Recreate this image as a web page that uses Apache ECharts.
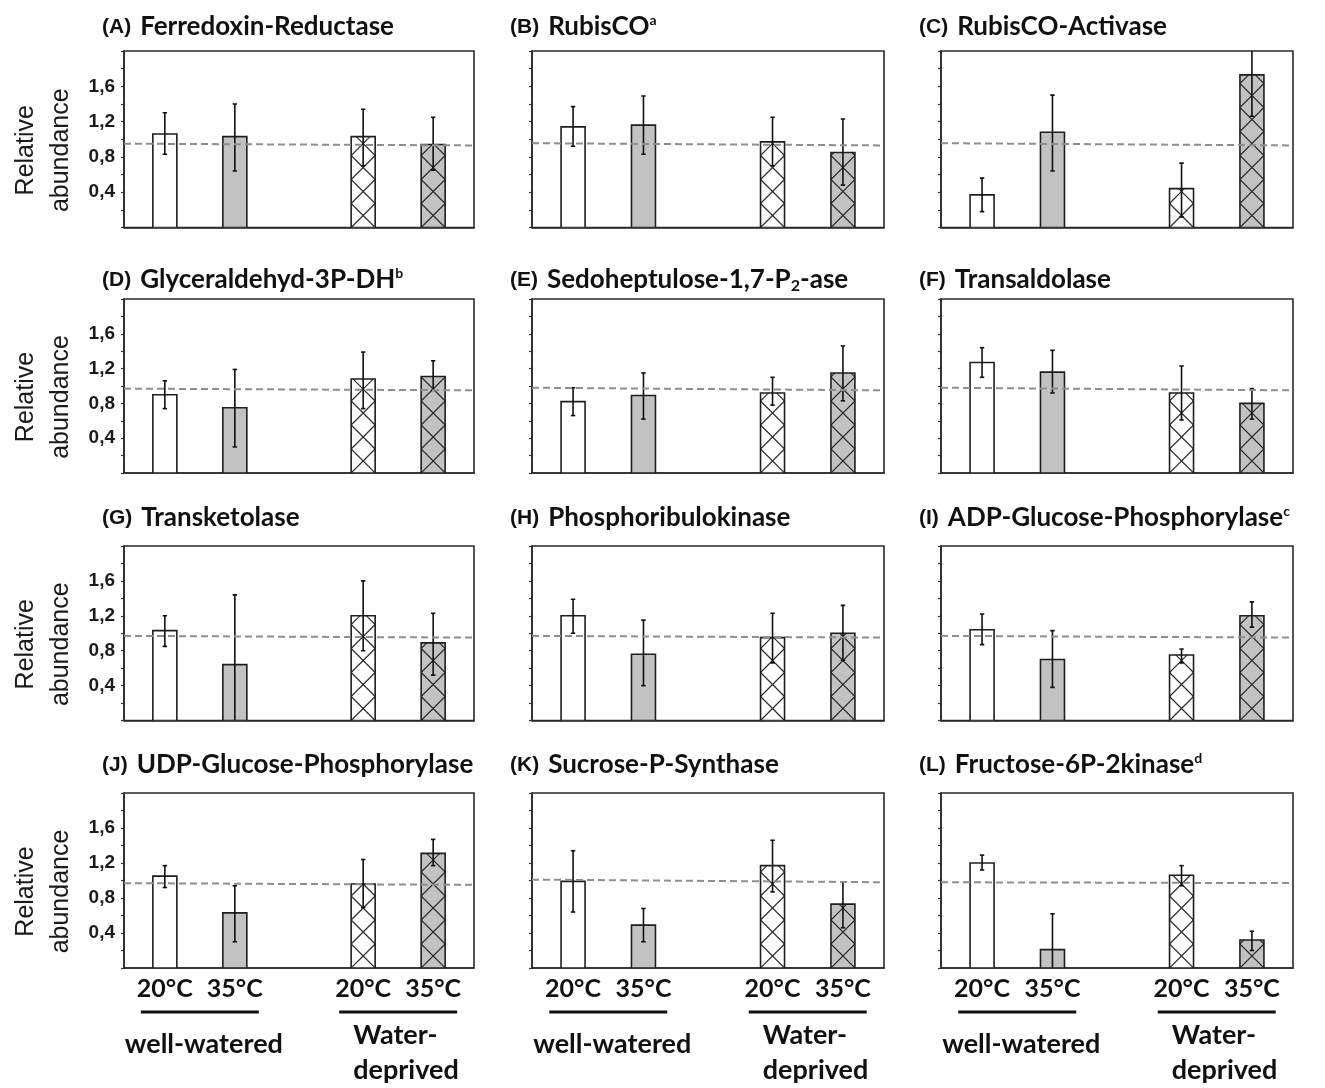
<!DOCTYPE html>
<html>
<head>
<meta charset="utf-8">
<script src="https://cdn.jsdelivr.net/npm/echarts@6/dist/echarts.min.js"></script>
<style>
  html, body { margin: 0; padding: 0; background: #ffffff; }
  #chart { width: 1325px; height: 1088px; }
</style>
</head>
<body>
<div id="chart"></div>
<script>
// ---- Panel labels ----------------------------------------------------------
const panelLetters = ['A', 'B', 'C', 'D', 'E', 'F', 'G', 'H', 'I', 'J', 'K', 'L'];
const enzymeNames = [
  '{n|Ferredoxin-Reductase}',
  '{n|RubisCO}{sup|a}',
  '{n|RubisCO-Activase}',
  '{n|Glyceraldehyd-3P-DH}{sup|b}',
  '{n|Sedoheptulose-1,7-P}{sub|2}{n|-ase}',
  '{n|Transaldolase}',
  '{n|Transketolase}',
  '{n|Phosphoribulokinase}',
  '{n|ADP-Glucose-Phosphorylase}{sup|c}',
  '{n|UDP-Glucose-Phosphorylase}',
  '{n|Sucrose-P-Synthase}',
  '{n|Fructose-6P-2kinase}{sup|d}'
];
const temperatureLabels = ['20°C', '35°C', '20°C', '35°C'];
const wateringGroups = ['well-watered', 'Water-\ndeprived'];
const yTickValues = [0.4, 0.8, 1.2, 1.6];
const yTickText = ['0,4', '0,8', '1,2', '1,6'];

// ---- Relative abundance: well-watered 20°C, 35°C, water-deprived 20°C, 35°C
const meanA = [1.06, 1.03, 1.03, 0.94];
const lowA  = [0.83, 0.64, 0.70, 0.65];
const highA = [1.30, 1.40, 1.34, 1.25];

const meanB = [1.14, 1.16, 0.97, 0.85];
const lowB  = [0.92, 0.83, 0.70, 0.48];
const highB = [1.37, 1.49, 1.25, 1.23];

const meanC = [0.37, 1.08, 0.44, 1.73];
const lowC  = [0.18, 0.64, 0.12, 1.26];
const highC = [0.56, 1.50, 0.73, 2.20];

const meanD = [0.90, 0.75, 1.08, 1.11];
const lowD  = [0.74, 0.30, 0.74, 0.95];
const highD = [1.06, 1.19, 1.39, 1.29];

const meanE = [0.82, 0.89, 0.92, 1.15];
const lowE  = [0.66, 0.62, 0.78, 0.83];
const highE = [0.98, 1.15, 1.10, 1.46];

const meanF = [1.27, 1.16, 0.92, 0.80];
const lowF  = [1.10, 0.92, 0.61, 0.62];
const highF = [1.44, 1.41, 1.23, 0.97];

const meanG = [1.03, 0.64, 1.20, 0.89];
const lowG  = [0.85, -0.16, 0.80, 0.52];
const highG = [1.20, 1.44, 1.60, 1.23];

const meanH = [1.20, 0.76, 0.95, 1.00];
const lowH  = [1.00, 0.40, 0.66, 0.69];
const highH = [1.39, 1.15, 1.23, 1.32];

const meanI = [1.04, 0.70, 0.75, 1.20];
const lowI  = [0.87, 0.38, 0.66, 1.07];
const highI = [1.22, 1.03, 0.82, 1.36];

const meanJ = [1.05, 0.63, 0.96, 1.31];
const lowJ  = [0.92, 0.30, 0.69, 1.17];
const highJ = [1.17, 0.94, 1.24, 1.47];

const meanK = [0.99, 0.49, 1.17, 0.73];
const lowK  = [0.64, 0.30, 0.87, 0.46];
const highK = [1.34, 0.68, 1.46, 0.98];

const meanL = [1.20, 0.21, 1.06, 0.32];
const lowL  = [1.12, -0.20, 0.94, 0.20];
const highL = [1.29, 0.62, 1.17, 0.42];

// Dashed control level (left end, right end) per panel
const controlLevel = [
  [0.95, 0.93], [0.955, 0.93], [0.955, 0.93],
  [0.97, 0.95], [0.98, 0.95], [0.98, 0.95],
  [0.97, 0.95], [0.97, 0.95], [0.97, 0.95],
  [0.97, 0.95], [1.01, 0.98], [0.98, 0.97]
];

const panelMeans = [meanA, meanB, meanC, meanD, meanE, meanF, meanG, meanH, meanI, meanJ, meanK, meanL];
const panelLows  = [lowA, lowB, lowC, lowD, lowE, lowF, lowG, lowH, lowI, lowJ, lowK, lowL];
const panelHighs = [highA, highB, highC, highD, highE, highF, highG, highH, highI, highJ, highK, highL];

// ---- Layout -----------------------------------------------------------------
const gridLefts = [124, 532, 941];
const gridWidths = [350, 352, 352];
const gridTops = [51, 299, 546, 793];
const gridHeights = [176.5, 174, 174.5, 175];
const titleTops = [13, 266, 504, 751];
const slotX = [3.5, 9.5, 20.5, 26.5];   // bar centres on a 0..30 x scale
const X_MAX = 30;
const BAR_W = 24;
const GRAY = '#c2c2c2';
const INK = '#1e1e1e';

const chart = echarts.init(document.getElementById('chart'), null, { renderer: 'canvas' });

// Hatched bars: crossing diagonals, one diamond per bar width, anchored at the baseline
function hatchLines(x0, w, yTop, yBase) {
  const out = [];
  const s = w;
  const clip = (xa, ya, xb, yb) => {
    if (ya < yTop && yb < yTop) return null;
    if (ya < yTop) { const t = (yTop - ya) / (yb - ya); xa = xa + t * (xb - xa); ya = yTop; }
    if (yb < yTop) { const t = (yTop - yb) / (ya - yb); xb = xb + t * (xa - xb); yb = yTop; }
    return { x1: xa, y1: ya, x2: xb, y2: yb };
  };
  for (let yv = yBase; yv > yTop - 0.01; yv -= s) {
    const a = clip(x0, yv, x0 + w, yv - s);
    const b = clip(x0, yv - s, x0 + w, yv);
    if (a) out.push(a);
    if (b) out.push(b);
  }
  return out;
}

function renderBar(params, api) {
  const x = api.value(0);
  const v = api.value(1);
  const lo = api.value(2);
  const hi = api.value(3);
  const kind = api.value(4);
  const pTop = api.coord([x, v]);
  const pBase = api.coord([x, 0]);
  const cx = pTop[0];
  const x0 = cx - BAR_W / 2;
  const fill = (kind % 2 === 1) ? GRAY : '#ffffff';
  const children = [{
    type: 'rect',
    shape: { x: x0, y: pTop[1], width: BAR_W, height: pBase[1] - pTop[1] },
    style: { fill: fill, stroke: null }
  }];
  if (kind >= 2) {
    hatchLines(x0, BAR_W, pTop[1], pBase[1]).forEach(function (seg) {
      children.push({ type: 'line', shape: seg, style: { stroke: '#2b2b2b', lineWidth: 1.1 } });
    });
  }
  children.push({
    type: 'rect',
    shape: { x: x0, y: pTop[1], width: BAR_W, height: pBase[1] - pTop[1] },
    style: { fill: null, stroke: INK, lineWidth: 1.6 }
  });
  const pHi = api.coord([x, hi]);
  const pLo = api.coord([x, lo]);
  const cap = 2.2;
  children.push({ type: 'line', shape: { x1: cx, y1: pHi[1], x2: cx, y2: pLo[1] }, style: { stroke: '#111', lineWidth: 1.6 } });
  children.push({ type: 'line', shape: { x1: cx - cap, y1: pHi[1], x2: cx + cap, y2: pHi[1] }, style: { stroke: '#111', lineWidth: 1.6 } });
  children.push({ type: 'line', shape: { x1: cx - cap, y1: pLo[1], x2: cx + cap, y2: pLo[1] }, style: { stroke: '#111', lineWidth: 1.6 } });
  return { type: 'group', children: children };
}

const grids = [], xAxes = [], yAxes = [], series = [], titles = [];
for (let r = 0; r < 4; r++) {
  for (let c = 0; c < 3; c++) {
    const i = r * 3 + c;
    grids.push({
      left: gridLefts[c], top: gridTops[r], width: gridWidths[c], height: gridHeights[r],
      show: true, borderColor: '#2a2a2a', borderWidth: 1.6, backgroundColor: 'transparent',
      containLabel: false, outerBoundsMode: 'none'
    });
    xAxes.push({
      type: 'value', gridIndex: i, min: 0, max: X_MAX, interval: 0.5,
      axisLine: { show: true, lineStyle: { color: '#2a2a2a', width: 1.6 } },
      axisTick: { show: false },
      splitLine: { show: false },
      axisLabel: {
        show: r === 3, margin: 8, interval: 0, hideOverlap: false,
        fontFamily: 'Lato', fontWeight: 'bold', fontSize: 25, color: '#111',
        formatter: function (val) {
          const k = slotX.findIndex(function (s) { return Math.abs(s - val) < 1e-6; });
          return k >= 0 ? temperatureLabels[k] : '';
        }
      }
    });
    yAxes.push({
      type: 'value', gridIndex: i, min: 0, max: 2, interval: 0.2,
      axisLine: { show: true, lineStyle: { color: '#2a2a2a', width: 1.6 } },
      axisTick: { show: true, inside: false, length: 3, lineStyle: { color: '#333', width: 1.2 } },
      splitLine: { show: false },
      axisLabel: {
        show: c === 0, margin: 9,
        fontFamily: 'Liberation Sans', fontWeight: 'bold', fontSize: 19, color: '#1a1a1a',
        formatter: function (val) {
          const k = yTickValues.findIndex(function (t) { return Math.abs(t - val) < 1e-6; });
          return k >= 0 ? yTickText[k] : '';
        }
      }
    });
    const rows = panelMeans[i].map(function (m, k) {
      return [slotX[k], m, panelLows[i][k], panelHighs[i][k], k];
    });
    series.push({
      type: 'custom', xAxisIndex: i, yAxisIndex: i, data: rows,
      encode: { x: 0, y: 1 }, renderItem: renderBar, clip: true, silent: true, z: 2
    });
    series.push({
      type: 'line', xAxisIndex: i, yAxisIndex: i,
      data: [[0, controlLevel[i][0]], [X_MAX, controlLevel[i][1]]],
      symbol: 'none', silent: true, z: 3,
      lineStyle: { color: '#8e8e8e', width: 2, type: [7, 4] }
    });
    titles.push({
      left: gridLefts[c] - 22, top: titleTops[r], padding: 0,
      text: '{l|(' + panelLetters[i] + ')}' + enzymeNames[i],
      textStyle: {
        rich: {
          l: { fontFamily: 'Liberation Sans', fontWeight: 'bold', fontSize: 21, color: '#111', lineHeight: 28, padding: [0, 9, 0, 0] },
          n: { fontFamily: 'Lato', fontWeight: 'bold', fontSize: 26, color: '#111', lineHeight: 28 },
          sup: { fontFamily: 'Lato', fontWeight: 'bold', fontSize: 14, color: '#111', lineHeight: 12, verticalAlign: 'top' },
          sub: { fontFamily: 'Lato', fontWeight: 'bold', fontSize: 16, color: '#111', lineHeight: 12, verticalAlign: 'bottom' }
        }
      }
    });
  }
}

chart.setOption({
  backgroundColor: '#ffffff',
  animation: false,
  title: titles,
  grid: grids,
  xAxis: xAxes,
  yAxis: yAxes,
  series: series
});

// Axis names and treatment brackets, placed from the rendered grid geometry
const extras = [];
for (let r = 0; r < 4; r++) {
  const p = chart.convertToPixel({ gridIndex: r * 3 }, [0, 1]);
  extras.push({
    type: 'text', x: p[0] - 80, y: gridTops[r] + gridHeights[r] / 2 + 11, rotation: Math.PI / 2,
    style: {
      text: 'Relative\nabundance', align: 'center', verticalAlign: 'middle', lineHeight: 35,
      font: '25px "Liberation Sans"', fill: '#1a1a1a'
    }
  });
}
for (let c = 0; c < 3; c++) {
  const gi = 9 + c;
  for (let g = 0; g < 2; g++) {
    const a = chart.convertToPixel({ gridIndex: gi }, [slotX[2 * g], 0]);
    const b = chart.convertToPixel({ gridIndex: gi }, [slotX[2 * g + 1], 0]);
    const mid = (a[0] + b[0]) / 2;
    extras.push({
      type: 'line', shape: { x1: mid - 59, y1: a[1] + 44, x2: mid + 59, y2: a[1] + 44 },
      style: { stroke: '#111', lineWidth: 3 }
    });
    if (g === 0) {
      extras.push({
        type: 'text', x: mid + 4, y: a[1] + 76,
        style: { text: wateringGroups[0], align: 'center', verticalAlign: 'middle', font: 'bold 27px Lato', fill: '#111' }
      });
    } else {
      extras.push({
        type: 'text', x: mid - 45, y: a[1] + 85,
        style: { text: wateringGroups[1], align: 'left', verticalAlign: 'middle', lineHeight: 35, font: 'bold 27px Lato', fill: '#111' }
      });
    }
  }
}
chart.setOption({ graphic: { elements: extras } });
</script>
</body>
</html>
